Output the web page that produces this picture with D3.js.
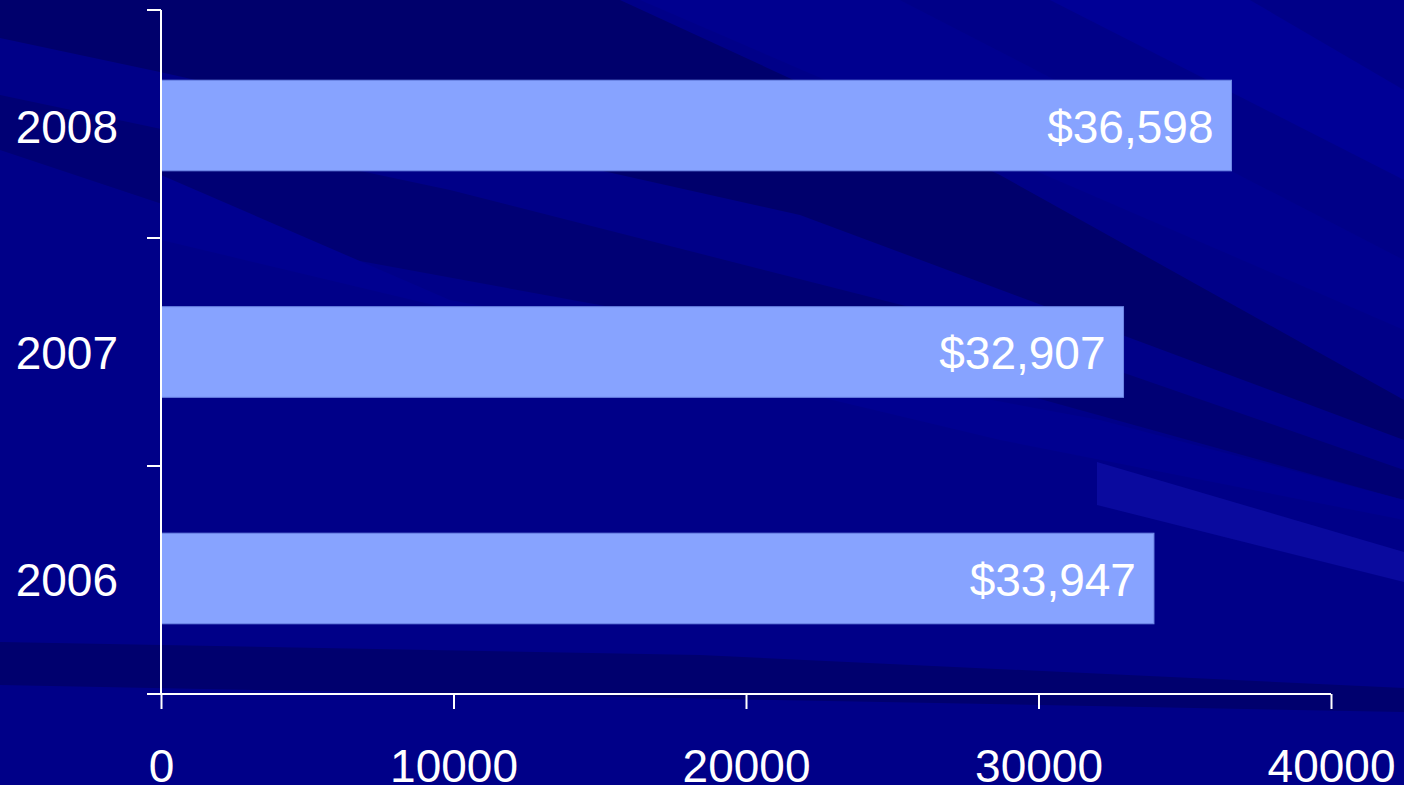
<!DOCTYPE html>
<html>
<head>
    <meta charset="utf-8">
    <title>Bar chart</title>
    <script src="https://cdn.jsdelivr.net/npm/d3@7"></script>
    <style>
        body { margin: 0; background: #000088; overflow: hidden; }
        svg { display: block; }
        text { font-family: "Liberation Sans", Arial, sans-serif; fill: #ffffff; }
    </style>
</head>
<body>
<svg id="chart"></svg>
<script>
    // chart data
    var years = ["2008", "2007", "2006"];
    var amounts = [36598, 32907, 33947];
    var amountLabels = ["$36,598", "$32,907", "$33,947"];
    var xTicks = [0, 10000, 20000, 30000, 40000];

    var w = 1404;
    var h = 785;

    var svg = d3.select("#chart")
        .attr("width", w)
        .attr("height", h);

    // background streaks (slide template decoration)
    var streaks = [
        { fill: "#00006c", pts: [[0, 0], [620, 0], [1000, 175], [1404, 400], [1404, 440], [800, 215], [160, 72], [0, 38]] },
        { fill: "#000074", pts: [[0, 95], [450, 190], [1000, 330], [1404, 470], [1404, 500], [900, 360], [300, 250], [0, 150]] },
        { fill: "#00008f", pts: [[640, 0], [900, 0], [1404, 260], [1404, 330]] },
        { fill: "#000096", pts: [[1050, 0], [1250, 0], [1404, 90], [1404, 180]] },
        { fill: "#000090", pts: [[161, 175], [450, 300], [1100, 420], [1404, 500], [1404, 520], [1000, 440], [161, 240]] },
        { fill: "#0a0a9e", pts: [[1097, 462], [1404, 552], [1404, 582], [1097, 505]] },
        { fill: "#00006e", pts: [[0, 642], [700, 655], [1404, 688], [1404, 712], [0, 685]] }
    ];
    svg.append("rect").attr("width", w).attr("height", h).attr("fill", "#000088");
    svg.selectAll("polygon.streak")
        .data(streaks)
        .enter()
        .append("polygon")
        .attr("class", "streak")
        .attr("points", function(d) { return d.pts.map(function(p) { return p.join(","); }).join(" "); })
        .attr("fill", function(d) { return d.fill; });

    // scales
    var x = d3.scaleLinear().domain([0, 40000]).range([161, 1331]);
    var y = d3.scaleBand().domain(years).range([10, 694]).paddingInner(0.6).paddingOuter(0.31);

    // bars
    svg.selectAll("rect.bar")
        .data(years)
        .enter()
        .append("rect")
        .attr("class", "bar")
        .attr("x", x(0))
        .attr("y", function(d) { return y(d); })
        .attr("width", function(d, i) { return x(amounts[i]) - x(0); })
        .attr("height", y.bandwidth())
        .attr("fill", "#87a3ff")
        .attr("stroke", "#6d87e6")
        .attr("stroke-width", 1);

    // value labels inside bars
    svg.selectAll("text.value")
        .data(years)
        .enter()
        .append("text")
        .attr("class", "value")
        .attr("x", function(d, i) { return x(amounts[i]) - 18; })
        .attr("y", function(d) { return y(d) + y.bandwidth() / 2; })
        .attr("dy", "0.37em")
        .attr("text-anchor", "end")
        .style("font-size", "46px")
        .text(function(d, i) { return amountLabels[i]; });

    // x axis
    var xAxis = svg.append("g")
        .attr("transform", "translate(0,694)")
        .call(d3.axisBottom(x).tickValues(xTicks).tickFormat(d3.format("d")).tickSize(15).tickPadding(40).tickSizeOuter(15));
    xAxis.select(".domain").attr("stroke", "#ffffff").attr("stroke-width", 2)
        .attr("d", "M147,0H" + x(40000));
    xAxis.selectAll(".tick line").attr("stroke", "#ffffff").attr("stroke-width", 2);
    xAxis.selectAll(".tick text").style("font-size", "46px").attr("fill", "#ffffff")
        .attr("font-family", null);

    // y axis with category labels
    var yAxis = svg.append("g")
        .attr("transform", "translate(161,0)")
        .call(d3.axisLeft(y).tickSize(0).tickPadding(43));
    yAxis.select(".domain").attr("stroke", "#ffffff").attr("stroke-width", 2)
        .attr("d", "M0,10V694");
    yAxis.selectAll(".tick text").style("font-size", "46px").attr("fill", "#ffffff")
        .attr("dy", "0.37em").attr("font-family", null);

    // y tick marks at category boundaries
    var r = y.range();
    var bounds = d3.range(years.length + 1).map(function(i) { return r[0] + i * (r[1] - r[0]) / years.length; });
    svg.selectAll("line.ybound")
        .data(bounds)
        .enter()
        .append("line")
        .attr("class", "ybound")
        .attr("x1", 147)
        .attr("x2", 161)
        .attr("y1", function(d) { return d; })
        .attr("y2", function(d) { return d; })
        .attr("stroke", "#ffffff")
        .attr("stroke-width", 2);
</script>
</body>
</html>
